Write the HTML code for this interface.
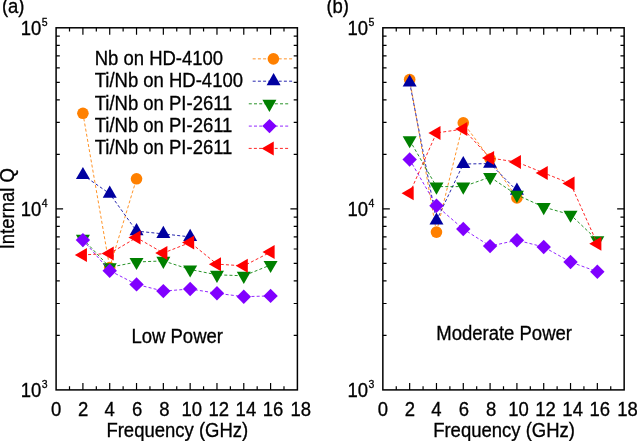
<!DOCTYPE html>
<html><head><meta charset="utf-8"><style>
html,body{margin:0;padding:0;background:#fff;}
svg{display:block;will-change:transform;}
text{font-family:"Liberation Sans",sans-serif;font-size:18.5px;fill:#000;stroke:#000;stroke-width:0.3px;}
</style></head><body>
<svg width="637" height="441" viewBox="0 0 637 441">
<rect width="637" height="441" fill="#fff"/>
<path d="M69.51 389.9V386.2M69.51 27.8V31.5M82.91 389.9V382.9M82.91 27.8V34.8M96.32 389.9V386.2M96.32 27.8V31.5M109.72 389.9V382.9M109.72 27.8V34.8M123.13 389.9V386.2M123.13 27.8V31.5M136.53 389.9V382.9M136.53 27.8V34.8M149.94 389.9V386.2M149.94 27.8V31.5M163.34 389.9V382.9M163.34 27.8V34.8M176.75 389.9V386.2M176.75 27.8V31.5M190.16 389.9V382.9M190.16 27.8V34.8M203.56 389.9V386.2M203.56 27.8V31.5M216.97 389.9V382.9M216.97 27.8V34.8M230.37 389.9V386.2M230.37 27.8V31.5M243.78 389.9V382.9M243.78 27.8V34.8M257.18 389.9V386.2M257.18 27.8V31.5M270.59 389.9V382.9M270.59 27.8V34.8M283.99 389.9V386.2M283.99 27.8V31.5M56.1 335.4H59.8M297.4 335.4H293.7M56.1 303.52H59.8M297.4 303.52H293.7M56.1 280.9H59.8M297.4 280.9H293.7M56.1 263.35H59.8M297.4 263.35H293.7M56.1 249.02H59.8M297.4 249.02H293.7M56.1 236.89H59.8M297.4 236.89H293.7M56.1 226.4H59.8M297.4 226.4H293.7M56.1 217.13H59.8M297.4 217.13H293.7M56.1 208.85H63.1M297.4 208.85H290.4M56.1 154.35H59.8M297.4 154.35H293.7M56.1 122.47H59.8M297.4 122.47H293.7M56.1 99.85H59.8M297.4 99.85H293.7M56.1 82.3H59.8M297.4 82.3H293.7M56.1 67.97H59.8M297.4 67.97H293.7M56.1 55.84H59.8M297.4 55.84H293.7M56.1 45.35H59.8M297.4 45.35H293.7M56.1 36.08H59.8M297.4 36.08H293.7" stroke="#000" stroke-width="1.2" fill="none"/>
<rect x="56.1" y="27.8" width="241.3" height="362.1" fill="none" stroke="#000" stroke-width="1.5"/>
<path d="M396.26 389.9V386.2M396.26 27.8V31.5M409.66 389.9V382.9M409.66 27.8V34.8M423.07 389.9V386.2M423.07 27.8V31.5M436.47 389.9V382.9M436.47 27.8V34.8M449.88 389.9V386.2M449.88 27.8V31.5M463.28 389.9V382.9M463.28 27.8V34.8M476.69 389.9V386.2M476.69 27.8V31.5M490.09 389.9V382.9M490.09 27.8V34.8M503.5 389.9V386.2M503.5 27.8V31.5M516.91 389.9V382.9M516.91 27.8V34.8M530.31 389.9V386.2M530.31 27.8V31.5M543.72 389.9V382.9M543.72 27.8V34.8M557.12 389.9V386.2M557.12 27.8V31.5M570.53 389.9V382.9M570.53 27.8V34.8M583.93 389.9V386.2M583.93 27.8V31.5M597.34 389.9V382.9M597.34 27.8V34.8M610.74 389.9V386.2M610.74 27.8V31.5M382.85 335.4H386.55M624.15 335.4H620.45M382.85 303.52H386.55M624.15 303.52H620.45M382.85 280.9H386.55M624.15 280.9H620.45M382.85 263.35H386.55M624.15 263.35H620.45M382.85 249.02H386.55M624.15 249.02H620.45M382.85 236.89H386.55M624.15 236.89H620.45M382.85 226.4H386.55M624.15 226.4H620.45M382.85 217.13H386.55M624.15 217.13H620.45M382.85 208.85H389.85M624.15 208.85H617.15M382.85 154.35H386.55M624.15 154.35H620.45M382.85 122.47H386.55M624.15 122.47H620.45M382.85 99.85H386.55M624.15 99.85H620.45M382.85 82.3H386.55M624.15 82.3H620.45M382.85 67.97H386.55M624.15 67.97H620.45M382.85 55.84H386.55M624.15 55.84H620.45M382.85 45.35H386.55M624.15 45.35H620.45M382.85 36.08H386.55M624.15 36.08H620.45" stroke="#000" stroke-width="1.2" fill="none"/>
<rect x="382.85" y="27.8" width="241.3" height="362.1" fill="none" stroke="#000" stroke-width="1.5"/>
<polyline points="82.91,113.3 109.72,267.5 136.53,178.8" fill="none" stroke="#ff8000" stroke-width="0.85" stroke-dasharray="3 2.2"/>
<circle cx="82.91" cy="113.3" r="5.8" fill="#ff8000"/>
<circle cx="109.72" cy="267.5" r="5.8" fill="#ff8000"/>
<circle cx="136.53" cy="178.8" r="5.8" fill="#ff8000"/>
<polyline points="82.91,175 109.72,193.7 136.53,231.1 163.34,233.9 190.16,236.9" fill="none" stroke="#0000a0" stroke-width="0.85" stroke-dasharray="3 2.2"/>
<polygon points="82.91,166.92 75.91,179.04 89.91,179.04" fill="#0000a0"/>
<polygon points="109.72,185.62 102.72,197.74 116.72,197.74" fill="#0000a0"/>
<polygon points="136.53,223.02 129.53,235.14 143.53,235.14" fill="#0000a0"/>
<polygon points="163.34,225.82 156.34,237.94 170.34,237.94" fill="#0000a0"/>
<polygon points="190.16,228.82 183.16,240.94 197.16,240.94" fill="#0000a0"/>
<polyline points="82.91,238.9 109.72,267.3 136.53,262 163.34,260.9 190.16,269.5 216.97,274.8 243.78,275.8 270.59,265" fill="none" stroke="#008000" stroke-width="0.85" stroke-dasharray="3 2.2"/>
<polygon points="82.91,246.98 75.91,234.86 89.91,234.86" fill="#008000"/>
<polygon points="109.72,275.38 102.72,263.26 116.72,263.26" fill="#008000"/>
<polygon points="136.53,270.08 129.53,257.96 143.53,257.96" fill="#008000"/>
<polygon points="163.34,268.98 156.34,256.86 170.34,256.86" fill="#008000"/>
<polygon points="190.16,277.58 183.16,265.46 197.16,265.46" fill="#008000"/>
<polygon points="216.97,282.88 209.97,270.76 223.97,270.76" fill="#008000"/>
<polygon points="243.78,283.88 236.78,271.76 250.78,271.76" fill="#008000"/>
<polygon points="270.59,273.08 263.59,260.96 277.59,260.96" fill="#008000"/>
<polyline points="82.91,240.1 109.72,270.7 136.53,284.4 163.34,291.1 190.16,289 216.97,293.3 243.78,296.7 270.59,295.9" fill="none" stroke="#8000ff" stroke-width="0.85" stroke-dasharray="3 2.2"/>
<polygon points="82.91,232.9 90.11,240.1 82.91,247.3 75.71,240.1" fill="#8000ff"/>
<polygon points="109.72,263.5 116.92,270.7 109.72,277.9 102.52,270.7" fill="#8000ff"/>
<polygon points="136.53,277.2 143.73,284.4 136.53,291.6 129.33,284.4" fill="#8000ff"/>
<polygon points="163.34,283.9 170.54,291.1 163.34,298.3 156.14,291.1" fill="#8000ff"/>
<polygon points="190.16,281.8 197.36,289 190.16,296.2 182.96,289" fill="#8000ff"/>
<polygon points="216.97,286.1 224.17,293.3 216.97,300.5 209.77,293.3" fill="#8000ff"/>
<polygon points="243.78,289.5 250.98,296.7 243.78,303.9 236.58,296.7" fill="#8000ff"/>
<polygon points="270.59,288.7 277.79,295.9 270.59,303.1 263.39,295.9" fill="#8000ff"/>
<polyline points="82.91,254.9 109.72,253.45 136.53,237.6 163.34,253.05 190.16,242.5 216.97,264.15 243.78,265.85 270.59,252.1" fill="none" stroke="#ff0000" stroke-width="0.85" stroke-dasharray="3 2.2"/>
<polygon points="74.83,254.9 86.95,247.9 86.95,261.9" fill="#ff0000"/>
<polygon points="101.64,253.45 113.76,246.45 113.76,260.45" fill="#ff0000"/>
<polygon points="128.45,237.6 140.57,230.6 140.57,244.6" fill="#ff0000"/>
<polygon points="155.26,253.05 167.39,246.05 167.39,260.05" fill="#ff0000"/>
<polygon points="182.07,242.5 194.2,235.5 194.2,249.5" fill="#ff0000"/>
<polygon points="208.88,264.15 221.01,257.15 221.01,271.15" fill="#ff0000"/>
<polygon points="235.69,265.85 247.82,258.85 247.82,272.85" fill="#ff0000"/>
<polygon points="262.51,252.1 274.63,245.1 274.63,259.1" fill="#ff0000"/>
<polyline points="409.66,79.5 436.47,232.1 463.28,122.8 490.09,159 516.91,197.9" fill="none" stroke="#ff8000" stroke-width="0.85" stroke-dasharray="3 2.2"/>
<circle cx="409.66" cy="79.5" r="5.8" fill="#ff8000"/>
<circle cx="436.47" cy="232.1" r="5.8" fill="#ff8000"/>
<circle cx="463.28" cy="122.8" r="5.8" fill="#ff8000"/>
<circle cx="490.09" cy="159" r="5.8" fill="#ff8000"/>
<circle cx="516.91" cy="197.9" r="5.8" fill="#ff8000"/>
<polyline points="409.66,82.5 436.47,220.5 463.28,164 490.09,163.6 516.91,190.7" fill="none" stroke="#0000a0" stroke-width="0.85" stroke-dasharray="3 2.2"/>
<polygon points="409.66,74.42 402.66,86.54 416.66,86.54" fill="#0000a0"/>
<polygon points="436.47,212.42 429.47,224.54 443.47,224.54" fill="#0000a0"/>
<polygon points="463.28,155.92 456.28,168.04 470.28,168.04" fill="#0000a0"/>
<polygon points="490.09,155.52 483.09,167.64 497.09,167.64" fill="#0000a0"/>
<polygon points="516.91,182.62 509.91,194.74 523.91,194.74" fill="#0000a0"/>
<polyline points="409.66,140.2 436.47,186.6 463.28,186.6 490.09,177.1 516.91,194.9 543.72,207.1 570.53,214.7 597.34,240.2" fill="none" stroke="#008000" stroke-width="0.85" stroke-dasharray="3 2.2"/>
<polygon points="409.66,148.28 402.66,136.16 416.66,136.16" fill="#008000"/>
<polygon points="436.47,194.68 429.47,182.56 443.47,182.56" fill="#008000"/>
<polygon points="463.28,194.68 456.28,182.56 470.28,182.56" fill="#008000"/>
<polygon points="490.09,185.18 483.09,173.06 497.09,173.06" fill="#008000"/>
<polygon points="516.91,202.98 509.91,190.86 523.91,190.86" fill="#008000"/>
<polygon points="543.72,215.18 536.72,203.06 550.72,203.06" fill="#008000"/>
<polygon points="570.53,222.78 563.53,210.66 577.53,210.66" fill="#008000"/>
<polygon points="597.34,248.28 590.34,236.16 604.34,236.16" fill="#008000"/>
<polyline points="409.66,159.5 436.47,205.8 463.28,229 490.09,246.1 516.91,240.2 543.72,247 570.53,262 597.34,271.7" fill="none" stroke="#8000ff" stroke-width="0.85" stroke-dasharray="3 2.2"/>
<polygon points="409.66,152.3 416.86,159.5 409.66,166.7 402.46,159.5" fill="#8000ff"/>
<polygon points="436.47,198.6 443.67,205.8 436.47,213 429.27,205.8" fill="#8000ff"/>
<polygon points="463.28,221.8 470.48,229 463.28,236.2 456.08,229" fill="#8000ff"/>
<polygon points="490.09,238.9 497.29,246.1 490.09,253.3 482.89,246.1" fill="#8000ff"/>
<polygon points="516.91,233 524.11,240.2 516.91,247.4 509.71,240.2" fill="#8000ff"/>
<polygon points="543.72,239.8 550.92,247 543.72,254.2 536.52,247" fill="#8000ff"/>
<polygon points="570.53,254.8 577.73,262 570.53,269.2 563.33,262" fill="#8000ff"/>
<polygon points="597.34,264.5 604.54,271.7 597.34,278.9 590.14,271.7" fill="#8000ff"/>
<polyline points="409.66,193.2 436.47,132.9 463.28,129.1 490.09,158 516.91,162.1 543.72,172.9 570.53,183.6 597.34,243.7" fill="none" stroke="#ff0000" stroke-width="0.85" stroke-dasharray="3 2.2"/>
<polygon points="401.58,193.2 413.7,186.2 413.7,200.2" fill="#ff0000"/>
<polygon points="428.39,132.9 440.51,125.9 440.51,139.9" fill="#ff0000"/>
<polygon points="455.2,129.1 467.32,122.1 467.32,136.1" fill="#ff0000"/>
<polygon points="482.01,158 494.14,151 494.14,165" fill="#ff0000"/>
<polygon points="508.82,162.1 520.95,155.1 520.95,169.1" fill="#ff0000"/>
<polygon points="535.63,172.9 547.76,165.9 547.76,179.9" fill="#ff0000"/>
<polygon points="562.44,183.6 574.57,176.6 574.57,190.6" fill="#ff0000"/>
<polygon points="589.26,243.7 601.38,236.7 601.38,250.7" fill="#ff0000"/>
<text transform="translate(56.1 415.7) scale(1 1.06)" text-anchor="middle">0</text>
<text transform="translate(83.1 415.7) scale(1 1.06)" text-anchor="middle">2</text>
<text transform="translate(109.7 415.7) scale(1 1.06)" text-anchor="middle">4</text>
<text transform="translate(137.1 415.7) scale(1 1.06)" text-anchor="middle">6</text>
<text transform="translate(164.4 415.7) scale(1 1.06)" text-anchor="middle">8</text>
<text transform="translate(191.8 415.7) scale(1 1.06)" text-anchor="middle">10</text>
<text transform="translate(218.7 415.7) scale(1 1.06)" text-anchor="middle">12</text>
<text transform="translate(245.9 415.7) scale(1 1.06)" text-anchor="middle">14</text>
<text transform="translate(273.1 415.7) scale(1 1.06)" text-anchor="middle">16</text>
<text transform="translate(300.7 415.7) scale(1 1.06)" text-anchor="middle">18</text>
<text transform="translate(20.8 34.6) scale(1 1.06)">10</text>
<text transform="translate(41.8 25.8) scale(1 1.06)" style="font-size:10.5px">5</text>
<text transform="translate(20.8 215.8) scale(1 1.06)">10</text>
<text transform="translate(41.8 207) scale(1 1.06)" style="font-size:10.5px">4</text>
<text transform="translate(20.8 397.1) scale(1 1.06)">10</text>
<text transform="translate(41.8 388.3) scale(1 1.06)" style="font-size:10.5px">3</text>
<text transform="translate(177.3 436.85) scale(1 1.06)" text-anchor="middle">Frequency (GHz)</text>
<text transform="translate(382.85 415.7) scale(1 1.06)" text-anchor="middle">0</text>
<text transform="translate(409.85 415.7) scale(1 1.06)" text-anchor="middle">2</text>
<text transform="translate(436.45 415.7) scale(1 1.06)" text-anchor="middle">4</text>
<text transform="translate(463.85 415.7) scale(1 1.06)" text-anchor="middle">6</text>
<text transform="translate(491.15 415.7) scale(1 1.06)" text-anchor="middle">8</text>
<text transform="translate(518.55 415.7) scale(1 1.06)" text-anchor="middle">10</text>
<text transform="translate(545.45 415.7) scale(1 1.06)" text-anchor="middle">12</text>
<text transform="translate(572.65 415.7) scale(1 1.06)" text-anchor="middle">14</text>
<text transform="translate(599.85 415.7) scale(1 1.06)" text-anchor="middle">16</text>
<text transform="translate(627.45 415.7) scale(1 1.06)" text-anchor="middle">18</text>
<text transform="translate(347.55 34.6) scale(1 1.06)">10</text>
<text transform="translate(368.55 25.8) scale(1 1.06)" style="font-size:10.5px">5</text>
<text transform="translate(347.55 215.8) scale(1 1.06)">10</text>
<text transform="translate(368.55 207) scale(1 1.06)" style="font-size:10.5px">4</text>
<text transform="translate(347.55 397.1) scale(1 1.06)">10</text>
<text transform="translate(368.55 388.3) scale(1 1.06)" style="font-size:10.5px">3</text>
<text transform="translate(504.05 436.85) scale(1 1.06)" text-anchor="middle">Frequency (GHz)</text>
<text transform="translate(94.7 64.8) scale(1 1.06)">Nb on HD-4100</text>
<line x1="252.7" y1="58.85" x2="293" y2="58.85" stroke="#ff8000" stroke-width="0.85" stroke-dasharray="3 2.2"/>
<circle cx="273.4" cy="58.85" r="5.8" fill="#ff8000"/>
<text transform="translate(94.7 87.2) scale(1 1.06)">Ti/Nb on HD-4100</text>
<line x1="252.7" y1="81.2" x2="293" y2="81.2" stroke="#0000a0" stroke-width="0.85" stroke-dasharray="3 2.2"/>
<polygon points="273.6,73.12 266.6,85.24 280.6,85.24" fill="#0000a0"/>
<text transform="translate(94.7 109.6) scale(1 1.06)">Ti/Nb on PI-2611</text>
<line x1="248.8" y1="103.8" x2="289" y2="103.8" stroke="#008000" stroke-width="0.85" stroke-dasharray="3 2.2"/>
<polygon points="269.4,111.88 262.4,99.76 276.4,99.76" fill="#008000"/>
<text transform="translate(94.7 132) scale(1 1.06)">Ti/Nb on PI-2611</text>
<line x1="248.8" y1="126.1" x2="289" y2="126.1" stroke="#8000ff" stroke-width="0.85" stroke-dasharray="3 2.2"/>
<polygon points="269.5,118.9 276.7,126.1 269.5,133.3 262.3,126.1" fill="#8000ff"/>
<text transform="translate(94.7 154.4) scale(1 1.06)">Ti/Nb on PI-2611</text>
<line x1="248.7" y1="148.4" x2="288.8" y2="148.4" stroke="#ff0000" stroke-width="0.85" stroke-dasharray="3 2.2"/>
<polygon points="261.62,148.4 273.74,141.4 273.74,155.4" fill="#ff0000"/>
<text transform="translate(14 208.75) rotate(-90) scale(1 1.06)" text-anchor="middle">Internal Q</text>
<text transform="translate(1.9 13) scale(1 1.06)">(a)</text>
<text transform="translate(326.4 13) scale(1 1.06)">(b)</text>
<text transform="translate(131.5 342.5) scale(1 1.06)">Low Power</text>
<text transform="translate(436.3 339.5) scale(1 1.06)">Moderate Power</text>
</svg>
</body></html>
